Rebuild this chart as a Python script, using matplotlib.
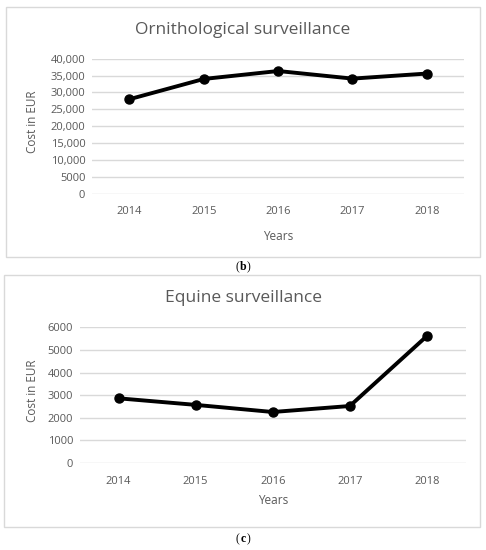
import matplotlib
matplotlib.use("Agg")
import matplotlib.pyplot as plt
from matplotlib.patches import Rectangle

years = ["2014", "2015", "2016", "2017", "2018"]
orni_cost = [28000, 34000, 36350, 34100, 35600]
equine_cost = [2860, 2570, 2255, 2520, 5615]

orni_ticks = [0, 5000, 10000, 15000, 20000, 25000, 30000, 35000, 40000]
orni_labels = ["0", "5000", "10,000", "15,000", "20,000", "25,000", "30,000", "35,000", "40,000"]
equine_ticks = [0, 1000, 2000, 3000, 4000, 5000, 6000]
equine_labels = ["0", "1000", "2000", "3000", "4000", "5000", "6000"]

W, H = 486, 550
grey = "#595959"
grid = "#d9d9d9"
font = "Open Sans"

fig = plt.figure(figsize=(W / 100, H / 100), dpi=100)


def px(x0, y0, x1, y1):
    # pixel box (top-left origin) -> figure fraction rect
    return [x0 / W, 1 - y1 / H, (x1 - x0) / W, (y1 - y0) / H]


def panel(rect, box, values, ticks, labels, title, title_y, lab_x, years_y, letter, letter_y):
    fig.add_artist(Rectangle((box[0] / W, 1 - box[3] / H), (box[2] - box[0]) / W,
                             (box[3] - box[1]) / H, transform=fig.transFigure,
                             fill=False, edgecolor=grid, lw=1))
    ax = fig.add_axes(rect)
    x = range(len(years))
    ax.plot(x, values, color="black", lw=2.8, marker="o", ms=6.5, clip_on=False, zorder=3)
    ax.set_xlim(-0.5, len(years) - 0.5)
    ax.set_ylim(ticks[0], ticks[-1])
    ax.set_yticks(ticks)
    ax.set_yticklabels(labels)
    ax.set_xticks(list(x))
    ax.set_xticklabels(years)
    ax.grid(axis="y", color=grid, lw=1)
    ax.set_axisbelow(True)
    for s in ax.spines.values():
        s.set_visible(False)
    ax.tick_params(length=0, colors=grey, labelsize=8)
    ax.tick_params(axis="x", pad=9)
    ax.tick_params(axis="y", pad=5)
    for t in ax.get_xticklabels() + ax.get_yticklabels():
        t.set_fontfamily(font)
    fig.text(243 / W, 1 - title_y / H, title,
             ha="center", va="center", fontsize=12.5, color=grey, family=font)
    fig.text(lab_x / W, 1 - (0.5 * (box[1] + box[3]) - 10) / H, "Cost in EUR", rotation=90,
             ha="center", va="center", fontsize=8.5, color=grey, family=font)
    cx = rect[0] + rect[2] / 2
    fig.text(cx, 1 - years_y / H, "Years", ha="center", va="center",
             fontsize=8.5, color=grey, family=font)
    ly = 1 - letter_y / H
    fig.text(239.5 / W, ly, "(", ha="right", va="center", fontsize=8.5, family="Liberation Serif")
    fig.text(243 / W, ly, letter, ha="center", va="center", fontsize=8.5,
             family="Liberation Serif", fontweight="bold")
    fig.text(246.5 / W, ly, ")", ha="left", va="center", fontsize=8.5, family="Liberation Serif")
    return ax


panel(px(92.3, 58.7, 464, 193.7), (6, 7, 480, 257), orni_cost, orni_ticks, orni_labels,
      "Ornithological surveillance", 30, 33, 237, "b", 267)
panel(px(80, 327.3, 465.5, 463), (4, 275, 480, 527), equine_cost, equine_ticks, equine_labels,
      "Equine surveillance", 298, 32, 500, "c", 539)

fig.savefig("out.png", dpi=100, facecolor="white")
